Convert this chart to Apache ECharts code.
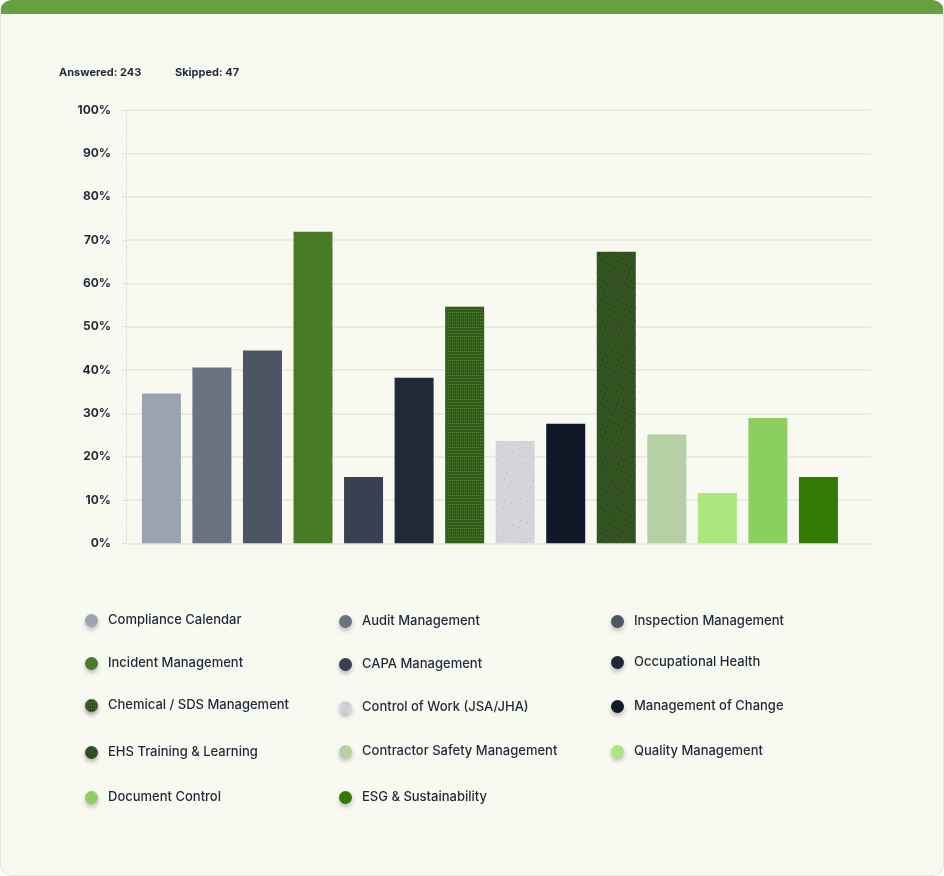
<!DOCTYPE html>
<html>
<head>
<meta charset="utf-8">
<script src="https://cdn.jsdelivr.net/npm/echarts@6/dist/echarts.min.js"></script>
<style>
  html, body { margin: 0; padding: 0; background: #ffffff; }
  #card {
    width: 944px; height: 876px;
    background: #f8faf2;
    border: 1px solid #e2e7da;
    border-top: 14px solid #65a13e;
    border-radius: 12px;
    box-sizing: border-box;
    position: relative;
  }
  #chart { position: absolute; left: -1px; top: -14px; width: 944px; height: 876px; }
</style>
</head>
<body>
<div id="card"><div id="chart"></div></div>
<script>
// chart data
const categories = [
    'Compliance Calendar', 'Audit Management', 'Inspection Management',
    'Incident Management', 'CAPA Management', 'Occupational Health',
    'Chemical / SDS Management', 'Control of Work (JSA/JHA)', 'Management of Change',
    'EHS Training & Learning', 'Contractor Safety Management', 'Quality Management',
    'Document Control', 'ESG & Sustainability'
];
const percentages = [34.6, 40.6, 44.5, 71.9, 15.3, 38.2, 54.6, 23.6, 27.6, 67.3, 25.1, 11.6, 28.9, 15.3];
const colors = ['#9ca3af', '#6b7280', '#4b5563', '#4a7c28', '#374151', '#1f2937', '#36591f',
    '#d3d5d9', '#111827', '#33531f', '#b5d1a4', '#abe67e', '#8bcf60', '#347805'];
const yTicks = [0, 10, 20, 30, 40, 50, 60, 70, 80, 90, 100];
const answered = 243;
const skipped = 47;

// textures on a few of the bars
const decals = {
    'Chemical / SDS Management': { symbol: 'rect', symbolSize: 1, dashArrayX: [1, 1], dashArrayY: [1, 2], color: 'rgba(86,150,48,0.75)' },
    'EHS Training & Learning': { symbol: 'rect', symbolSize: 1, dashArrayX: [1, 4], dashArrayY: [1, 5], rotation: 0.4, color: '#1b2540' },
    'Control of Work (JSA/JHA)': { symbol: 'rect', symbolSize: 1, dashArrayX: [1, 6], dashArrayY: [1, 6], rotation: 0.3, color: '#aeb3ba' }
};

// legend layout: [icon centre x, centre y] for each entry, in grid order
const legendPos = [
    [91, 620], [345, 621], [617, 621],
    [91, 663], [345, 664], [617, 662],
    [91, 705], [345, 707], [617, 706],
    [91, 752], [345, 751], [617, 751],
    [91, 797], [345, 797]
];

const chart = echarts.init(document.getElementById('chart'));
const fontFamily = 'Inter, Roboto, sans-serif';

const series = categories.map((name, i) => ({
    name: name,
    type: 'bar',
    barWidth: 39,
    barGap: '-100%',
    data: [[i, percentages[i]]],
    itemStyle: { color: colors[i], decal: decals[name] || null },
    emphasis: { disabled: true }
}));

const legends = categories.map((name, i) => ({
    data: [name],
    left: legendPos[i][0] - 6,
    top: legendPos[i][1] - 6,
    padding: 0,
    icon: 'circle',
    itemWidth: 13,
    itemHeight: 13,
    itemStyle: { shadowColor: 'rgba(0,0,0,0.25)', shadowBlur: 4, shadowOffsetY: 3 },
    textStyle: { color: '#1f2937', fontSize: 13, fontWeight: 500, fontFamily: fontFamily, padding: [0, 0, 0, 5] },
    selectedMode: false
}));

const option = {
    animation: false,
    title: [
        { text: 'Answered: ' + answered, left: 59, top: 67, padding: 0,
          textStyle: { fontSize: 11, fontWeight: 'bold', color: '#1f2937', fontFamily: fontFamily } },
        { text: 'Skipped: ' + skipped, left: 175, top: 67, padding: 0,
          textStyle: { fontSize: 11, fontWeight: 'bold', color: '#1f2937', fontFamily: fontFamily } }
    ],
    legend: legends,
    grid: { left: 126, right: 73, top: 110, height: 433.3 },
    xAxis: {
        type: 'value',
        min: -0.7,
        max: 14.04,
        show: false
    },
    yAxis: {
        type: 'value',
        min: yTicks[0],
        max: yTicks[yTicks.length - 1],
        interval: 10,
        axisLine: { show: true, onZero: false, lineStyle: { color: '#dfe2da', type: 'dashed' } },
        axisTick: { show: true, length: 4, lineStyle: { color: '#dfe2da' } },
        axisLabel: {
            formatter: '{value}%', margin: 15,
            color: '#1f2937', fontSize: 12, fontWeight: 'bold', fontFamily: fontFamily
        },
        splitLine: { lineStyle: { color: '#e3e6dd', width: 1.5 } }
    },
    series: series
};

chart.setOption(option);
</script>
</body>
</html>
